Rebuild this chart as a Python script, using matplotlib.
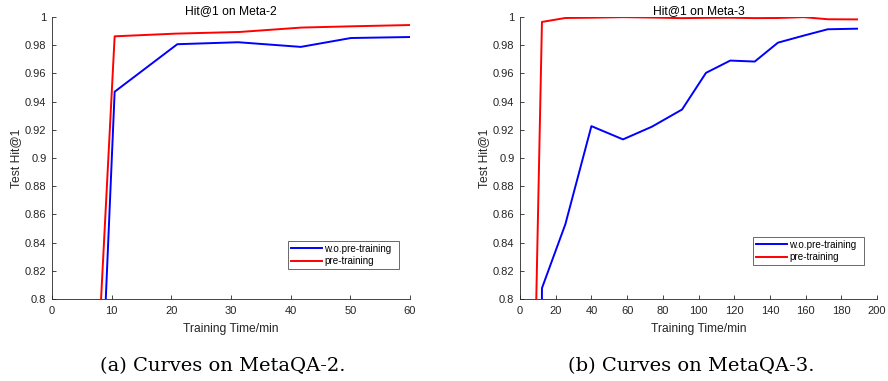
import matplotlib
matplotlib.use("Agg")
import matplotlib.pyplot as plt
import matplotlib.transforms as mtrans

plt.rcParams['font.family'] = ['Liberation Sans', 'DejaVu Sans']

# Panel (a): MetaQA-2
a_wo_x = [8.0, 10.5, 21.0, 31.2, 41.7, 50.1, 60.0]
a_wo_y = [0.70, 0.947, 0.9807, 0.9821, 0.9788, 0.9851, 0.9858]
a_pre_x = [7.0, 10.5, 20.7, 31.5, 41.8, 50.2, 60.0]
a_pre_y = [0.70, 0.9863, 0.9882, 0.9894, 0.9925, 0.9934, 0.9943]

# Panel (b): MetaQA-3
b_x = [12.3, 25.4, 40.0, 57.7, 73.9, 90.8, 104.2, 117.8, 131.5, 144.5, 158.9, 172.4, 188.8]
b_wo_x = [12.0] + b_x
b_wo_y = [0.70, 0.8077, 0.853, 0.9226, 0.9132, 0.9222, 0.9344, 0.9604, 0.9691,
          0.9684, 0.9818, 0.9868, 0.9913, 0.9917]
b_pre_x = [7.5] + b_x
b_pre_y = [0.70, 0.9965, 0.9993, 0.9995, 0.9999, 0.9996, 0.9992, 0.9994, 0.9995,
           0.9992, 0.9993, 0.9999, 0.9984, 0.9983]

yticks = [0.8, 0.82, 0.84, 0.86, 0.88, 0.9, 0.92, 0.94, 0.96, 0.98, 1]
ytick_labels = ['0.8', '0.82', '0.84', '0.86', '0.88', '0.9', '0.92', '0.94', '0.96', '0.98', '1']

fig = plt.figure(figsize=(8.88, 3.81), dpi=100)
W, H = 888, 381

def make_ax(left, right, top, bottom):
    return fig.add_axes([left / W, 1 - bottom / H, (right - left) / W, (bottom - top) / H])

ax1 = make_ax(52, 410, 17, 299)
ax2 = make_ax(520, 877, 17, 299)

gray = '#262626'
panels = [
    (ax1, a_wo_x, a_wo_y, a_pre_x, a_pre_y, 'Hit@1 on Meta-2', [0, 60], list(range(0, 61, 10)),
     (288, 240, 399, 269), '(a) Curves on MetaQA-2.', 223),
    (ax2, b_wo_x, b_wo_y, b_pre_x, b_pre_y, 'Hit@1 on Meta-3', [0, 200], list(range(0, 201, 20)),
     (753, 235, 864, 265), '(b) Curves on MetaQA-3.', 691),
]

for ax, wx, wy, px, py, title, xlim, xt, lg, cap, capx in panels:
    ax.plot(wx, wy, color=(0, 0, 1), lw=1.4, label='w.o.pre-training')
    ax.plot(px, py, color=(1, 0, 0), lw=1.4, label='pre-training')
    ax.set_xlim(*xlim)
    ax.set_ylim(0.8, 1.0)
    ax.set_xticks(xt)
    ax.set_yticks(yticks)
    ax.set_yticklabels(ytick_labels)
    for s in ['top', 'right']:
        ax.spines[s].set_visible(False)
    for s in ['left', 'bottom']:
        ax.spines[s].set_color(gray)
        ax.spines[s].set_linewidth(0.6)
    ax.tick_params(direction='in', length=3, width=0.6, colors=gray, labelsize=8)
    ax.tick_params(axis='x', pad=5)
    ax.tick_params(axis='y', pad=4)
    ax.set_title(title, fontsize=8.7, color='black', pad=1)
    ax.set_xlabel('Training Time/min', fontsize=8.7, color=gray, labelpad=5)
    ax.set_ylabel('Test Hit@1', fontsize=8.7, color=gray, labelpad=2)
    x0, y0, x1, y1 = lg
    bb = fig.transFigure.inverted().transform_bbox(mtrans.Bbox([[x0, H - y1], [x1, H - y0]]))
    leg = ax.legend(loc='lower left', bbox_to_anchor=bb, bbox_transform=fig.transFigure,
                    mode='expand', fontsize=7.1, frameon=True, fancybox=False, borderpad=0.3,
                    handlelength=3.1, handletextpad=0.3, labelspacing=0.25, borderaxespad=0)
    leg.get_frame().set_edgecolor(gray)
    leg.get_frame().set_linewidth(0.6)
    fig.text(capx / W, 1 - 371 / H, cap, ha='center', va='baseline',
             fontsize=14, family=['DejaVu Serif', 'Liberation Serif'])

fig.savefig('out.png', dpi=100)
